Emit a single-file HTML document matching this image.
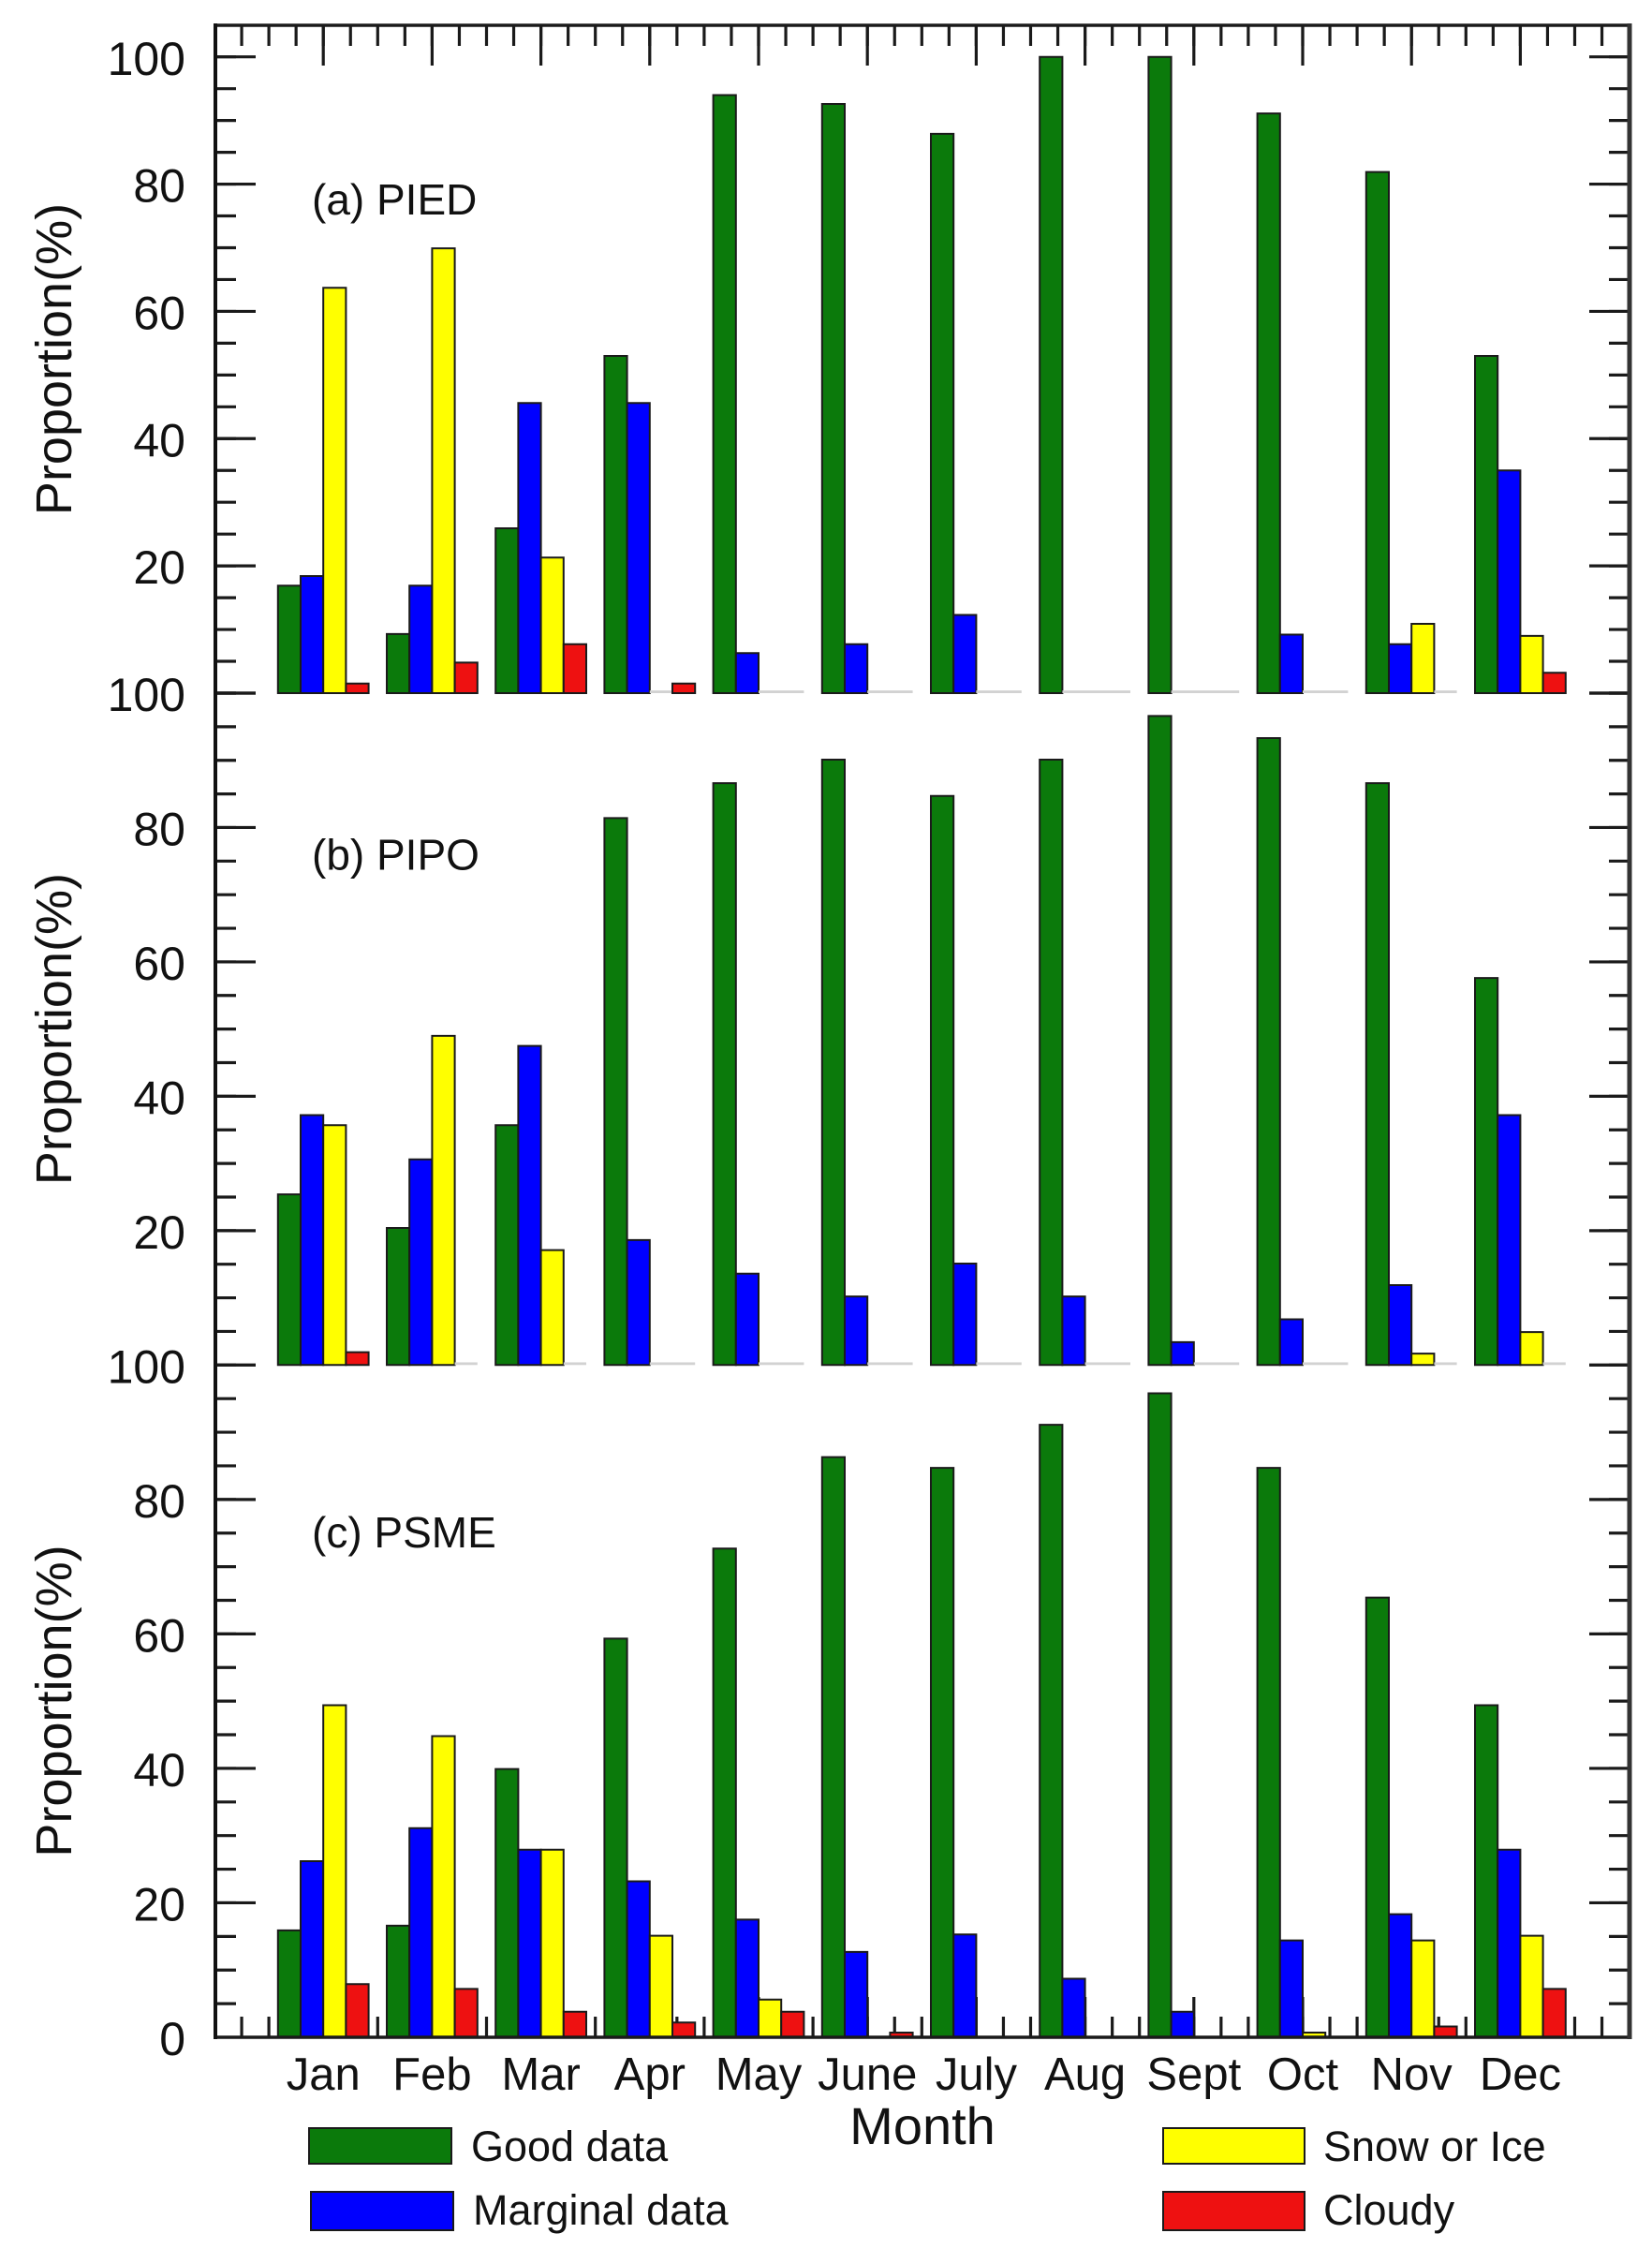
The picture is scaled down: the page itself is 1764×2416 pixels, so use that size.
<!DOCTYPE html>
<html>
<head>
<meta charset="utf-8">
<style>
html,body{margin:0;padding:0;background:#fff;}
svg{display:block;}
text{font-family:"Liberation Sans",Arial,sans-serif;fill:#111;}
.g{fill:#0b7a0b;stroke:#1a1a1a;stroke-width:2;vector-effect:non-scaling-stroke;}
.b{fill:#0000ff;stroke:#1a1a1a;stroke-width:2;vector-effect:non-scaling-stroke;}
.y{fill:#ffff00;stroke:#1a1a1a;stroke-width:2;vector-effect:non-scaling-stroke;}
.r{fill:#ee1111;stroke:#1a1a1a;stroke-width:2;vector-effect:non-scaling-stroke;}
.z{fill:#d2d2d2;stroke:none;}
.tk{stroke:#1a1a1a;stroke-width:3.2;fill:none;}
.yl{font-size:50px;text-anchor:end;}
.ml{font-size:49px;text-anchor:middle;}
.pl{font-size:46px;}
.yt{font-size:54px;text-anchor:middle;}
.lg{font-size:45px;}
</style>
</head>
<body>
<svg width="1764" height="2416" viewBox="0 0 1764 2416" xmlns="http://www.w3.org/2000/svg">
<rect x="0" y="0" width="1764" height="2416" fill="#fff"/>

<!-- top ticks -->
<path class="tk" d="M258.05,27v22m29.05,-22v22m29.05,-22v22m29.05,-22v22m29.05,-22v22m29.05,-22v22m29.05,-22v22m29.05,-22v22m29.05,-22v22m29.05,-22v22m29.05,-22v22m29.05,-22v22m29.05,-22v22m29.05,-22v22m29.05,-22v22m29.05,-22v22m29.05,-22v22m29.05,-22v22m29.05,-22v22m29.05,-22v22m29.05,-22v22m29.05,-22v22m29.05,-22v22m29.05,-22v22m29.05,-22v22m29.05,-22v22m29.05,-22v22m29.05,-22v22m29.05,-22v22m29.05,-22v22m29.05,-22v22m29.05,-22v22m29.05,-22v22m29.05,-22v22m29.05,-22v22m29.05,-22v22m29.05,-22v22m29.05,-22v22m29.05,-22v22m29.05,-22v22m29.05,-22v22m29.05,-22v22m29.05,-22v22m29.05,-22v22m29.05,-22v22m29.05,-22v22m29.05,-22v22m29.05,-22v22m29.05,-22v22m29.05,-22v22m29.05,-22v22"/>
<path class="tk" d="M345.2,27v43m116.2,-43v43m116.2,-43v43m116.2,-43v43m116.2,-43v43m116.2,-43v43m116.2,-43v43m116.2,-43v43m116.2,-43v43m116.2,-43v43m116.2,-43v43m116.2,-43v43"/>
<!-- bottom ticks -->
<path class="tk" d="M258.05,2175v-22m29.05,22v-22m29.05,22v-22m29.05,22v-22m29.05,22v-22m29.05,22v-22m29.05,22v-22m29.05,22v-22m29.05,22v-22m29.05,22v-22m29.05,22v-22m29.05,22v-22m29.05,22v-22m29.05,22v-22m29.05,22v-22m29.05,22v-22m29.05,22v-22m29.05,22v-22m29.05,22v-22m29.05,22v-22m29.05,22v-22m29.05,22v-22m29.05,22v-22m29.05,22v-22m29.05,22v-22m29.05,22v-22m29.05,22v-22m29.05,22v-22m29.05,22v-22m29.05,22v-22m29.05,22v-22m29.05,22v-22m29.05,22v-22m29.05,22v-22m29.05,22v-22m29.05,22v-22m29.05,22v-22m29.05,22v-22m29.05,22v-22m29.05,22v-22m29.05,22v-22m29.05,22v-22m29.05,22v-22m29.05,22v-22m29.05,22v-22m29.05,22v-22m29.05,22v-22m29.05,22v-22m29.05,22v-22m29.05,22v-22m29.05,22v-22"/>
<path class="tk" d="M345.2,2175v-43m116.2,43v-43m116.2,43v-43m116.2,43v-43m116.2,43v-43m116.2,43v-43m116.2,43v-43m116.2,43v-43m116.2,43v-43m116.2,43v-43m116.2,43v-43m116.2,43v-43"/>

<!-- left ticks -->
<path class="tk" d="M230,60.7h22m-22,33.965h22m-22,33.965h22m-22,33.965h22m-22,33.965h22m-22,33.965h22m-22,33.965h22m-22,33.965h22m-22,33.965h22m-22,33.965h22m-22,33.965h22m-22,33.965h22m-22,33.965h22m-22,33.965h22m-22,33.965h22m-22,33.965h22m-22,33.965h22m-22,33.965h22m-22,33.965h22m-22,33.965h22m-22,33.965h22"/>
<path class="tk" d="M230,60.7h43m-43,135.86h43m-43,135.86h43m-43,135.86h43m-43,135.86h43m-43,135.86h43"/>
<path class="tk" d="M230,740h22m-22,35.865h22m-22,35.865h22m-22,35.865h22m-22,35.865h22m-22,35.865h22m-22,35.865h22m-22,35.865h22m-22,35.865h22m-22,35.865h22m-22,35.865h22m-22,35.865h22m-22,35.865h22m-22,35.865h22m-22,35.865h22m-22,35.865h22m-22,35.865h22m-22,35.865h22m-22,35.865h22m-22,35.865h22m-22,35.865h22"/>
<path class="tk" d="M230,740h43m-43,143.46h43m-43,143.46h43m-43,143.46h43m-43,143.46h43m-43,143.46h43"/>
<path class="tk" d="M230,1457.3h22m-22,35.885h22m-22,35.885h22m-22,35.885h22m-22,35.885h22m-22,35.885h22m-22,35.885h22m-22,35.885h22m-22,35.885h22m-22,35.885h22m-22,35.885h22m-22,35.885h22m-22,35.885h22m-22,35.885h22m-22,35.885h22m-22,35.885h22m-22,35.885h22m-22,35.885h22m-22,35.885h22m-22,35.885h22"/>
<path class="tk" d="M230,1457.3h43m-43,143.54h43m-43,143.54h43m-43,143.54h43m-43,143.54h43"/>
<!-- right ticks -->
<path class="tk" d="M1740,60.7h-22m22,33.965h-22m22,33.965h-22m22,33.965h-22m22,33.965h-22m22,33.965h-22m22,33.965h-22m22,33.965h-22m22,33.965h-22m22,33.965h-22m22,33.965h-22m22,33.965h-22m22,33.965h-22m22,33.965h-22m22,33.965h-22m22,33.965h-22m22,33.965h-22m22,33.965h-22m22,33.965h-22m22,33.965h-22m22,33.965h-22"/>
<path class="tk" d="M1740,60.7h-43m43,135.86h-43m43,135.86h-43m43,135.86h-43m43,135.86h-43m43,135.86h-43"/>
<path class="tk" d="M1740,740h-22m22,35.865h-22m22,35.865h-22m22,35.865h-22m22,35.865h-22m22,35.865h-22m22,35.865h-22m22,35.865h-22m22,35.865h-22m22,35.865h-22m22,35.865h-22m22,35.865h-22m22,35.865h-22m22,35.865h-22m22,35.865h-22m22,35.865h-22m22,35.865h-22m22,35.865h-22m22,35.865h-22m22,35.865h-22m22,35.865h-22"/>
<path class="tk" d="M1740,740h-43m43,143.46h-43m43,143.46h-43m43,143.46h-43m43,143.46h-43m43,143.46h-43"/>
<path class="tk" d="M1740,1457.3h-22m22,35.885h-22m22,35.885h-22m22,35.885h-22m22,35.885h-22m22,35.885h-22m22,35.885h-22m22,35.885h-22m22,35.885h-22m22,35.885h-22m22,35.885h-22m22,35.885h-22m22,35.885h-22m22,35.885h-22m22,35.885h-22m22,35.885h-22m22,35.885h-22m22,35.885h-22m22,35.885h-22m22,35.885h-22"/>
<path class="tk" d="M1740,1457.3h-43m43,143.54h-43m43,143.54h-43m43,143.54h-43m43,143.54h-43"/>

<!-- Panel a bars -->
<g transform="matrix(1,0,0,-6.793,0,740)">
 <g transform="translate(296.8,0)"><rect class="g" x="0" width="24.2" height="16.9"/><rect class="b" x="24.2" width="24.2" height="18.4"/><rect class="y" x="48.4" width="24.2" height="63.7"/><rect class="r" x="72.6" width="24.2" height="1.5"/></g>
 <g transform="translate(413,0)"><rect class="g" x="0" width="24.2" height="9.3"/><rect class="b" x="24.2" width="24.2" height="16.9"/><rect class="y" x="48.4" width="24.2" height="69.9"/><rect class="r" x="72.6" width="24.2" height="4.8"/></g>
 <g transform="translate(529.2,0)"><rect class="g" x="0" width="24.2" height="25.9"/><rect class="b" x="24.2" width="24.2" height="45.6"/><rect class="y" x="48.4" width="24.2" height="21.3"/><rect class="r" x="72.6" width="24.2" height="7.7"/></g>
 <g transform="translate(645.4,0)"><rect class="g" x="0" width="24.2" height="53.0"/><rect class="b" x="24.2" width="24.2" height="45.6"/><rect class="z" x="48.4" width="24.2" height="0.42"/><rect class="r" x="72.6" width="24.2" height="1.5"/></g>
 <g transform="translate(761.6,0)"><rect class="g" x="0" width="24.2" height="94.0"/><rect class="b" x="24.2" width="24.2" height="6.3"/><rect class="z" x="48.4" width="48.4" height="0.42"/></g>
 <g transform="translate(877.8,0)"><rect class="g" x="0" width="24.2" height="92.6"/><rect class="b" x="24.2" width="24.2" height="7.7"/><rect class="z" x="48.4" width="48.4" height="0.42"/></g>
 <g transform="translate(994,0)"><rect class="g" x="0" width="24.2" height="87.9"/><rect class="b" x="24.2" width="24.2" height="12.3"/><rect class="z" x="48.4" width="48.4" height="0.42"/></g>
 <g transform="translate(1110.2,0)"><rect class="g" x="0" width="24.2" height="100"/><rect class="z" x="24.2" width="72.6" height="0.42"/></g>
 <g transform="translate(1226.4,0)"><rect class="g" x="0" width="24.2" height="100"/><rect class="z" x="24.2" width="72.6" height="0.42"/></g>
 <g transform="translate(1342.6,0)"><rect class="g" x="0" width="24.2" height="91.1"/><rect class="b" x="24.2" width="24.2" height="9.2"/><rect class="z" x="48.4" width="48.4" height="0.42"/></g>
 <g transform="translate(1458.8,0)"><rect class="g" x="0" width="24.2" height="81.9"/><rect class="b" x="24.2" width="24.2" height="7.7"/><rect class="y" x="48.4" width="24.2" height="10.9"/><rect class="z" x="72.6" width="24.2" height="0.42"/></g>
 <g transform="translate(1575,0)"><rect class="g" x="0" width="24.2" height="53.0"/><rect class="b" x="24.2" width="24.2" height="35.0"/><rect class="y" x="48.4" width="24.2" height="9.0"/><rect class="r" x="72.6" width="24.2" height="3.2"/></g>
</g>

<!-- Panel b bars -->
<g transform="matrix(1,0,0,-7.173,0,1457.3)">
 <g transform="translate(296.8,0)"><rect class="g" x="0" width="24.2" height="25.4"/><rect class="b" x="24.2" width="24.2" height="37.2"/><rect class="y" x="48.4" width="24.2" height="35.7"/><rect class="r" x="72.6" width="24.2" height="1.9"/></g>
 <g transform="translate(413,0)"><rect class="g" x="0" width="24.2" height="20.4"/><rect class="b" x="24.2" width="24.2" height="30.6"/><rect class="y" x="48.4" width="24.2" height="49.0"/><rect class="z" x="72.6" width="24.2" height="0.4"/></g>
 <g transform="translate(529.2,0)"><rect class="g" x="0" width="24.2" height="35.7"/><rect class="b" x="24.2" width="24.2" height="47.5"/><rect class="y" x="48.4" width="24.2" height="17.1"/><rect class="z" x="72.6" width="24.2" height="0.4"/></g>
 <g transform="translate(645.4,0)"><rect class="g" x="0" width="24.2" height="81.4"/><rect class="b" x="24.2" width="24.2" height="18.6"/><rect class="z" x="48.4" width="48.4" height="0.4"/></g>
 <g transform="translate(761.6,0)"><rect class="g" x="0" width="24.2" height="86.6"/><rect class="b" x="24.2" width="24.2" height="13.6"/><rect class="z" x="48.4" width="48.4" height="0.4"/></g>
 <g transform="translate(877.8,0)"><rect class="g" x="0" width="24.2" height="90.1"/><rect class="b" x="24.2" width="24.2" height="10.2"/><rect class="z" x="48.4" width="48.4" height="0.4"/></g>
 <g transform="translate(994,0)"><rect class="g" x="0" width="24.2" height="84.7"/><rect class="b" x="24.2" width="24.2" height="15.1"/><rect class="z" x="48.4" width="48.4" height="0.4"/></g>
 <g transform="translate(1110.2,0)"><rect class="g" x="0" width="24.2" height="90.1"/><rect class="b" x="24.2" width="24.2" height="10.2"/><rect class="z" x="48.4" width="48.4" height="0.4"/></g>
 <g transform="translate(1226.4,0)"><rect class="g" x="0" width="24.2" height="96.6"/><rect class="b" x="24.2" width="24.2" height="3.4"/><rect class="z" x="48.4" width="48.4" height="0.4"/></g>
 <g transform="translate(1342.6,0)"><rect class="g" x="0" width="24.2" height="93.3"/><rect class="b" x="24.2" width="24.2" height="6.8"/><rect class="z" x="48.4" width="48.4" height="0.4"/></g>
 <g transform="translate(1458.8,0)"><rect class="g" x="0" width="24.2" height="86.6"/><rect class="b" x="24.2" width="24.2" height="11.9"/><rect class="y" x="48.4" width="24.2" height="1.7"/><rect class="z" x="72.6" width="24.2" height="0.4"/></g>
 <g transform="translate(1575,0)"><rect class="g" x="0" width="24.2" height="57.6"/><rect class="b" x="24.2" width="24.2" height="37.2"/><rect class="y" x="48.4" width="24.2" height="4.9"/><rect class="z" x="72.6" width="24.2" height="0.4"/></g>
</g>

<!-- Panel c bars -->
<g transform="matrix(1,0,0,-7.177,0,2175)">
 <g transform="translate(296.8,0)"><rect class="g" x="0" width="24.2" height="15.9"/><rect class="b" x="24.2" width="24.2" height="26.2"/><rect class="y" x="48.4" width="24.2" height="49.4"/><rect class="r" x="72.6" width="24.2" height="7.9"/></g>
 <g transform="translate(413,0)"><rect class="g" x="0" width="24.2" height="16.6"/><rect class="b" x="24.2" width="24.2" height="31.1"/><rect class="y" x="48.4" width="24.2" height="44.8"/><rect class="r" x="72.6" width="24.2" height="7.2"/></g>
 <g transform="translate(529.2,0)"><rect class="g" x="0" width="24.2" height="39.9"/><rect class="b" x="24.2" width="24.2" height="27.9"/><rect class="y" x="48.4" width="24.2" height="27.9"/><rect class="r" x="72.6" width="24.2" height="3.8"/></g>
 <g transform="translate(645.4,0)"><rect class="g" x="0" width="24.2" height="59.3"/><rect class="b" x="24.2" width="24.2" height="23.2"/><rect class="y" x="48.4" width="24.2" height="15.1"/><rect class="r" x="72.6" width="24.2" height="2.2"/></g>
 <g transform="translate(761.6,0)"><rect class="g" x="0" width="24.2" height="72.7"/><rect class="b" x="24.2" width="24.2" height="17.5"/><rect class="y" x="48.4" width="24.2" height="5.6"/><rect class="r" x="72.6" width="24.2" height="3.8"/></g>
 <g transform="translate(877.8,0)"><rect class="g" x="0" width="24.2" height="86.3"/><rect class="b" x="24.2" width="24.2" height="12.7"/><rect class="r" x="72.6" width="24.2" height="0.7"/></g>
 <g transform="translate(994,0)"><rect class="g" x="0" width="24.2" height="84.7"/><rect class="b" x="24.2" width="24.2" height="15.3"/></g>
 <g transform="translate(1110.2,0)"><rect class="g" x="0" width="24.2" height="91.1"/><rect class="b" x="24.2" width="24.2" height="8.7"/></g>
 <g transform="translate(1226.4,0)"><rect class="g" x="0" width="24.2" height="95.8"/><rect class="b" x="24.2" width="24.2" height="3.8"/></g>
 <g transform="translate(1342.6,0)"><rect class="g" x="0" width="24.2" height="84.7"/><rect class="b" x="24.2" width="24.2" height="14.4"/><rect class="y" x="48.4" width="24.2" height="0.7"/></g>
 <g transform="translate(1458.8,0)"><rect class="g" x="0" width="24.2" height="65.4"/><rect class="b" x="24.2" width="24.2" height="18.3"/><rect class="y" x="48.4" width="24.2" height="14.4"/><rect class="r" x="72.6" width="24.2" height="1.6"/></g>
 <g transform="translate(1575,0)"><rect class="g" x="0" width="24.2" height="49.4"/><rect class="b" x="24.2" width="24.2" height="27.9"/><rect class="y" x="48.4" width="24.2" height="15.1"/><rect class="r" x="72.6" width="24.2" height="7.2"/></g>
</g>

<!-- frame -->
<line x1="228" y1="27" x2="1742" y2="27" stroke="#1a1a1a" stroke-width="3.5"/>
<line x1="228" y1="2175" x2="1742" y2="2175" stroke="#1a1a1a" stroke-width="3.5"/>
<line x1="230" y1="25" x2="230" y2="2177" stroke="#111" stroke-width="4"/>
<line x1="1740" y1="25" x2="1740" y2="2177" stroke="#333" stroke-width="5"/>

<!-- y tick labels -->
<text class="yl" x="198" y="80">100</text>
<text class="yl" x="198" y="215.6">80</text>
<text class="yl" x="198" y="351.4">60</text>
<text class="yl" x="198" y="487.3">40</text>
<text class="yl" x="198" y="623.1">20</text>
<text class="yl" x="198" y="759">100</text>
<text class="yl" x="198" y="902.5">80</text>
<text class="yl" x="198" y="1045.9">60</text>
<text class="yl" x="198" y="1189.4">40</text>
<text class="yl" x="198" y="1332.8">20</text>
<text class="yl" x="198" y="1476.3">100</text>
<text class="yl" x="198" y="1619.8">80</text>
<text class="yl" x="198" y="1763.4">60</text>
<text class="yl" x="198" y="1906.9">40</text>
<text class="yl" x="198" y="2050.5">20</text>
<text class="yl" x="198" y="2194">0</text>

<!-- y titles -->
<text class="yt" transform="translate(76,383.5) rotate(-90)">Proportion(%)</text>
<text class="yt" transform="translate(76,1098.6) rotate(-90)">Proportion(%)</text>
<text class="yt" transform="translate(76,1816) rotate(-90)">Proportion(%)</text>

<!-- panel labels -->
<text class="pl" x="333" y="229">(a) PIED</text>
<text class="pl" x="333" y="928.7">(b) PIPO</text>
<text class="pl" x="333" y="1651.8">(c) PSME</text>

<!-- month labels -->
<text class="ml" x="345.2" y="2231">Jan</text>
<text class="ml" x="461.4" y="2231">Feb</text>
<text class="ml" x="577.6" y="2231">Mar</text>
<text class="ml" x="693.8" y="2231">Apr</text>
<text class="ml" x="810" y="2231">May</text>
<text class="ml" x="926.2" y="2231">June</text>
<text class="ml" x="1042.4" y="2231">July</text>
<text class="ml" x="1158.6" y="2231">Aug</text>
<text class="ml" x="1274.8" y="2231">Sept</text>
<text class="ml" x="1391" y="2231">Oct</text>
<text class="ml" x="1507.2" y="2231">Nov</text>
<text class="ml" x="1623.4" y="2231">Dec</text>
<text x="985" y="2289" font-size="56" text-anchor="middle">Month</text>

<!-- legend -->
<rect x="330" y="2272" width="152" height="38" fill="#0b7a0b" stroke="#1a1a1a" stroke-width="2"/>
<text class="lg" x="503" y="2307">Good data</text>
<rect x="332" y="2340" width="152" height="41" fill="#0000ff" stroke="#1a1a1a" stroke-width="2"/>
<text class="lg" x="505" y="2375">Marginal data</text>
<rect x="1242" y="2272" width="151" height="38" fill="#ffff00" stroke="#1a1a1a" stroke-width="2"/>
<text class="lg" x="1413" y="2307">Snow or Ice</text>
<rect x="1242" y="2340" width="151" height="41" fill="#ee1111" stroke="#1a1a1a" stroke-width="2"/>
<text class="lg" x="1413" y="2375">Cloudy</text>
</svg>
</body>
</html>
